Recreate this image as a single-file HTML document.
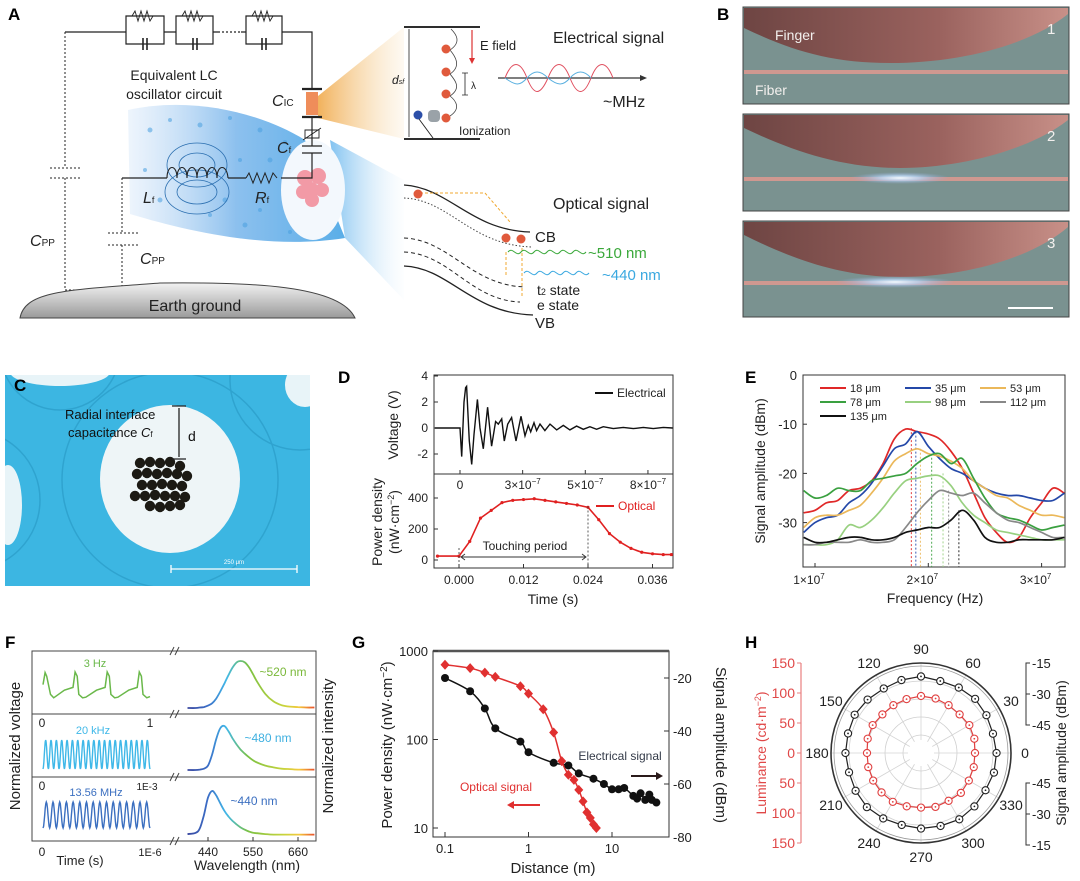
<!DOCTYPE html>
<html><head><meta charset="utf-8">
<style>
html,body{margin:0;padding:0;background:#fff;}
svg{display:block;font-family:"Liberation Sans",Arial,sans-serif;}
.pl{font-weight:bold;font-size:17px;font-family:"Liberation Sans",sans-serif;}
.tk{font-size:12px;fill:#222;}
.al{font-size:14px;fill:#222;}
</style></head>
<body>
<svg id="fig" width="1080" height="881" viewBox="0 0 1080 881" xmlns="http://www.w3.org/2000/svg">
<defs>
<linearGradient id="gOr" x1="0" y1="0" x2="1" y2="0"><stop offset="0" stop-color="#f0a94a" stop-opacity="0.9"/><stop offset="1" stop-color="#f7d9a8" stop-opacity="0.15"/></linearGradient>
<linearGradient id="gBl" x1="0" y1="0" x2="1" y2="0"><stop offset="0" stop-color="#6cb8ee" stop-opacity="0.85"/><stop offset="1" stop-color="#d8ecfa" stop-opacity="0.05"/></linearGradient>
<linearGradient id="gTube" x1="0" y1="0" x2="1" y2="0"><stop offset="0" stop-color="#c4dcf6" stop-opacity="0.3"/><stop offset="0.5" stop-color="#8cc0ee"/><stop offset="1" stop-color="#5aaee8"/></linearGradient>
<linearGradient id="gGround" x1="0" y1="0" x2="0" y2="1"><stop offset="0" stop-color="#f2f2f2"/><stop offset="1" stop-color="#9a9a9a"/></linearGradient>
<linearGradient id="gFinger" x1="0" y1="0" x2="1" y2="0"><stop offset="0" stop-color="#6e4543"/><stop offset="0.6" stop-color="#9a625e"/><stop offset="1" stop-color="#c89088"/></linearGradient>
<linearGradient id="gSpec" gradientUnits="userSpaceOnUse" x1="188" y1="0" x2="316" y2="0"><stop offset="0" stop-color="#3a48a0"/><stop offset="0.16" stop-color="#3b6fc8"/><stop offset="0.3" stop-color="#42b8e8"/><stop offset="0.47" stop-color="#7ac143"/><stop offset="0.75" stop-color="#c8d43c"/><stop offset="0.87" stop-color="#f4c83c"/><stop offset="1" stop-color="#e8452a"/></linearGradient>
<radialGradient id="gGlow"><stop offset="0" stop-color="#f4fbff"/><stop offset="0.4" stop-color="#b9d6f5" stop-opacity="0.8"/><stop offset="1" stop-color="#8fa8d8" stop-opacity="0"/></radialGradient>
<clipPath id="clipC"><rect x="5" y="375" width="305" height="211"/></clipPath>
</defs>

<!-- ================= PANEL A ================= -->
<g>
<text class="pl" x="8" y="20">A</text>
<polygon points="318,96 404,27 404,139 318,118" fill="url(#gOr)"/>
<polygon points="330,140 404,180 404,300 345,238" fill="url(#gBl)"/>
<path d="M128,110 C190,96 260,112 305,140 L345,238 C270,250 190,232 130,214 Z" fill="url(#gTube)"/>
<g fill="#4aa0e0" opacity="0.55">
<circle cx="150" cy="130" r="2.5"/><circle cx="170" cy="120" r="2"/><circle cx="200" cy="125" r="2.5"/><circle cx="230" cy="118" r="2"/><circle cx="260" cy="130" r="2.5"/><circle cx="285" cy="142" r="2"/><circle cx="160" cy="200" r="2.5"/><circle cx="210" cy="215" r="2"/><circle cx="245" cy="225" r="2.5"/><circle cx="290" cy="232" r="2"/><circle cx="240" cy="160" r="2"/><circle cx="225" cy="200" r="2.5"/><circle cx="260" cy="210" r="2"/><circle cx="145" cy="170" r="2"/><circle cx="270" cy="160" r="2.5"/></g>
<ellipse cx="313" cy="190" rx="32" ry="50" fill="#f3f8fd"/>
<g fill="#f29aa6"><circle cx="305" cy="178" r="8"/><circle cx="318" cy="176" r="8"/><circle cx="311" cy="190" r="8"/><circle cx="322" cy="190" r="7"/><circle cx="303" cy="192" r="7"/><circle cx="312" cy="200" r="7"/></g>
<g fill="none" stroke="#2b6fb0" stroke-width="0.8">
<ellipse cx="197" cy="165" rx="30" ry="22"/><ellipse cx="197" cy="165" rx="18" ry="12"/><ellipse cx="197" cy="192" rx="32" ry="22"/><ellipse cx="197" cy="192" rx="20" ry="12"/></g>
<g fill="none" stroke="#222" stroke-width="1.2">
<path d="M65,32 H126 M164,32 H176 M213,32 H218 M241,32 H246 M282,32 H312 V89"/>
<path d="M218,32 H241" stroke-dasharray="2,2"/>
<path d="M126,32 V16 H164 V32 M126,32 V44 H164 V32 M176,32 V16 H213 V32 M176,32 V44 H213 V32 M246,32 V16 H282 V32 M246,32 V44 H282 V32"/>
<path d="M132,16 l3,-5 l3,10 l3,-10 l3,10 l3,-10 l3,10 l3,-5 M182,16 l3,-5 l3,10 l3,-10 l3,10 l3,-10 l3,10 l3,-5 M252,16 l3,-5 l3,10 l3,-10 l3,10 l3,-10 l3,10 l3,-5" stroke-width="0.9"/>
<path d="M143,38 V50 M147,38 V50 M193,38 V50 M197,38 V50 M262,38 V50 M266,38 V50" stroke-width="1.6"/>
<path d="M302,89 H322 M302,117 H322" stroke-width="2.2"/>
<path d="M312,117 V146 M302,146 H322 M302,153 H322 M312,153 V178 H281 M246,178 H228 M167,178 H122" />
<path d="M303,140 L321,128 M305,130 H319 V138 H305 Z" stroke-width="0.9"/>
<path d="M246,178 l3,-5 l4,10 l4,-10 l4,10 l4,-10 l4,10 l4,-10 l4,5" stroke-width="1"/>
<path d="M167,178 c0,-14 10,-14 10,0 c0,-14 10,-14 10,0 c0,-14 10,-14 10,0 c0,-14 10,-14 10,0 c0,-14 10,-14 10,0 c0,-14 10,-14 11,0" stroke-width="1.1"/>
<path d="M65,32 V168 M65,178 V290 M50,168 H80 M50,178 H80 M122,178 V233 M122,245 V290 M108,233 H138 M108,245 H138 M65,290 H122" stroke-dasharray="2,2" stroke-width="1"/>
</g>
<rect x="306" y="92" width="12" height="23" fill="#ef8d5a"/>
<path d="M20,318 C25,290 70,290 160,283 C250,282 340,285 355,318 Z" fill="url(#gGround)" stroke="#444" stroke-width="1"/>
<text x="195" y="311" text-anchor="middle" style="font-size:16px" fill="#222">Earth ground</text>
<text x="174" y="80" text-anchor="middle" style="font-size:14px" fill="#222">Equivalent LC</text>
<text x="174" y="99" text-anchor="middle" style="font-size:14px" fill="#222">oscillator circuit</text>
<text x="272" y="106" style="font-size:16px;font-style:italic" fill="#222">C<tspan style="font-size:10px;font-style:normal">IC</tspan></text>
<text x="277" y="153" style="font-size:16px;font-style:italic" fill="#222">C<tspan style="font-size:9px;font-style:normal">f</tspan></text>
<text x="143" y="203" style="font-size:16px;font-style:italic" fill="#222">L<tspan style="font-size:9px;font-style:normal">f</tspan></text>
<text x="255" y="203" style="font-size:16px;font-style:italic" fill="#222">R<tspan style="font-size:9px;font-style:normal">f</tspan></text>
<text x="30" y="246" style="font-size:16px;font-style:italic" fill="#222">C<tspan style="font-size:10px;font-style:normal">PP</tspan></text>
<text x="140" y="264" style="font-size:16px;font-style:italic" fill="#222">C<tspan style="font-size:10px;font-style:normal">PP</tspan></text>
<g>
<path d="M404,27 H480 M404,139 H480" stroke="#111" stroke-width="1.8"/>
<path d="M409,29 V137" stroke="#222" stroke-width="0.8"/>
<text x="392" y="84" style="font-size:12px;font-style:italic" fill="#222">d<tspan style="font-size:7px">sf</tspan></text>
<path d="M472,30 V60" stroke="#d33" stroke-width="1.2"/><path d="M469,58 L472,64 L475,58 Z" fill="#d33"/>
<text x="480" y="50" style="font-size:13px" fill="#222">E field</text>
<path d="M462,73 H468 M465,73 V95 M462,95 H468" stroke="#222" stroke-width="0.8"/>
<text x="471" y="89" style="font-size:10px" fill="#222">λ</text>
<path d="M450,116 C462,108 455,100 450,96 C462,88 455,80 450,74 C462,66 455,56 450,50 C462,42 456,34 451,29" stroke="#444" stroke-width="0.8" fill="none"/>
<circle cx="446" cy="49" r="4.5" fill="#e05a3c"/><circle cx="446" cy="72" r="4.5" fill="#e05a3c"/><circle cx="446" cy="94" r="4.5" fill="#e05a3c"/><circle cx="446" cy="118" r="4.5" fill="#e05a3c"/>
<rect x="428" y="110" width="12" height="12" rx="4" fill="#9aa2a8"/><circle cx="418" cy="115" r="4.5" fill="#2c4fa8"/>
<path d="M419,119 L433,138" stroke="#222" stroke-width="0.9"/>
<text x="459" y="135" style="font-size:12px" fill="#222">Ionization</text>
<text x="553" y="43" style="font-size:16px" fill="#222">Electrical signal</text>
<path d="M498,78 H643" stroke="#333" stroke-width="1.2"/><path d="M640,75 L647,78 L640,81 Z" fill="#333"/>
<path d="M505,78 C512,60 520,60 527,78 C534,96 540,96 548,78 C555,60 563,60 570,78 C577,96 584,96 591,78 C598,60 606,60 613,78" stroke="#e05060" fill="none" stroke-width="1"/>
<path d="M505,78 C516,86 520,86 527,78 C534,70 540,70 548,78 C558,86 563,86 570,78 C577,70 584,70 591,78" stroke="#5ab0e0" fill="none" stroke-width="1"/>
<text x="603" y="107" style="font-size:16px" fill="#222">~MHz</text>
</g>
<g fill="none">
<path d="M404,185 C450,188 470,230 530,232" stroke="#222" stroke-width="1.3"/>
<path d="M404,198 C450,200 470,245 532,247" stroke="#444" stroke-width="1" stroke-dasharray="1.5,2"/>
<path d="M404,238 C450,240 470,285 525,287" stroke="#222" stroke-width="1" stroke-dasharray="4,3"/>
<path d="M404,252 C450,254 470,300 520,302" stroke="#222" stroke-width="1" stroke-dasharray="4,3"/>
<path d="M404,266 C450,268 470,313 533,315" stroke="#222" stroke-width="1.3"/>
<path d="M420,193 H485 L510,222 M506,252 V275 M522,248 V298" stroke="#f0a830" stroke-width="1" stroke-dasharray="3,2"/>
<path d="M508,252 c5,-6 8,6 13,0 c5,-6 8,6 13,0 c5,-6 8,6 13,0 c5,-6 8,6 13,0 c5,-6 8,6 13,0 c5,-6 8,6 13,0" stroke="#3aa83a" stroke-width="1"/>
<path d="M524,273 c5,-6 8,6 13,0 c5,-6 8,6 13,0 c5,-6 8,6 13,0 c5,-6 8,6 13,0 c5,-6 8,6 13,0" stroke="#3aa8e0" stroke-width="1"/>
</g>
<circle cx="418" cy="194" r="4.5" fill="#e05a3c"/>
<circle cx="506" cy="238" r="4.5" fill="#e05a3c"/>
<circle cx="521" cy="239" r="4.5" fill="#e05a3c"/>
<text x="553" y="209" style="font-size:16px" fill="#222">Optical signal</text>
<text x="535" y="242" style="font-size:15px" fill="#222">CB</text>
<text x="588" y="258" style="font-size:15px" fill="#3aa83a">~510 nm</text>
<text x="602" y="280" style="font-size:15px" fill="#3aa8e0">~440 nm</text>
<text x="537" y="295" style="font-size:14px" fill="#222">t<tspan style="font-size:9px">2</tspan> state</text>
<text x="537" y="310" style="font-size:14px" fill="#222">e state</text>
<text x="535" y="328" style="font-size:15px" fill="#222">VB</text>
</g>

<!-- ================= PANEL B ================= -->
<g>
<text class="pl" x="717" y="20">B</text>
<g>
<rect x="743" y="7" width="326" height="97" fill="#7a9290" stroke="#444"/>
<path d="M744,8 V28 C790,50 830,63 890,63 C960,63 1030,45 1068,14 V8 Z" fill="url(#gFinger)"/>
<rect x="744" y="70" width="324" height="4" fill="#cf9890"/>
<text x="775" y="40" fill="#f3f0ee" style="font-size:14px">Finger</text>
<text x="755" y="95" fill="#f3f0ee" style="font-size:14px">Fiber</text>
<text x="1047" y="34" fill="#f3f0ee" style="font-size:15px">1</text></g>
<g>
<rect x="743" y="114" width="326" height="97" fill="#7a9290" stroke="#444"/>
<path d="M744,115 V128 C790,150 840,168 900,168 C960,168 1030,150 1068,120 V115 Z" fill="url(#gFinger)"/>
<rect x="744" y="177" width="324" height="4" fill="#cf9890"/>
<ellipse cx="900" cy="178" rx="50" ry="6" fill="url(#gGlow)"/>
<text x="1047" y="141" fill="#f3f0ee" style="font-size:15px">2</text></g>
<g>
<rect x="743" y="221" width="326" height="96" fill="#7a9290" stroke="#444"/>
<path d="M744,222 V235 C790,258 840,277 900,277 C960,277 1030,260 1068,227 V222 Z" fill="url(#gFinger)"/>
<rect x="744" y="281" width="324" height="4" fill="#cf9890"/>
<ellipse cx="895" cy="282" rx="60" ry="6" fill="url(#gGlow)"/>
<text x="1047" y="248" fill="#f3f0ee" style="font-size:15px">3</text>
<path d="M1008,308 H1053" stroke="#fff" stroke-width="2"/></g>
</g>

<!-- ================= PANEL C ================= -->
<g>
<g clip-path="url(#clipC)">
<rect x="5" y="375" width="305" height="211" fill="#3cb6e2"/>
<g fill="none" stroke="#2a9cc8" stroke-width="1.5" opacity="0.7"><circle cx="170" cy="480" r="108"/><circle cx="-30" cy="500" r="70"/><circle cx="300" cy="380" r="70"/><circle cx="60" cy="350" r="60"/></g>
<ellipse cx="60" cy="372" rx="50" ry="14" fill="#e8f4f8"/>
<ellipse cx="8" cy="505" rx="14" ry="40" fill="#e8f4f8"/>
<ellipse cx="305" cy="385" rx="20" ry="22" fill="#e8f4f8"/>
<ellipse cx="170" cy="479" rx="70" ry="74" fill="#eef5f7"/>
</g>
<g fill="#1c1a14" id="cDots"></g>
<text x="65" y="419" style="font-size:13px" fill="#111">Radial interface</text>
<text x="68" y="437" style="font-size:13px" fill="#111">capacitance <tspan font-style="italic">C</tspan><tspan style="font-size:8px">f</tspan></text>
<path d="M172,406 H186 M172,459 H186 M179,408 V457" stroke="#222" stroke-width="1.3"/>
<text x="188" y="441" style="font-size:14px" fill="#111">d</text>
<path d="M171,569 H297 M171,565 V573 M297,565 V573" stroke="#fff" stroke-width="1.3"/>
<text x="234" y="564" text-anchor="middle" style="font-size:6px" fill="#fff">250 μm</text>
<text class="pl" x="14" y="391">C</text>
</g>

<!-- ================= PANEL D ================= -->
<g id="panelD">
<text class="pl" x="338" y="383">D</text>
<rect x="434" y="375" width="239" height="193" fill="none" stroke="#333"/>
<path d="M434,474 H673" stroke="#333"/>
<text transform="translate(398,425) rotate(-90)" text-anchor="middle" class="al">Voltage (V)</text>
<text transform="translate(382,522) rotate(-90)" text-anchor="middle" class="al">Power density</text>
<text transform="translate(399,522) rotate(-90)" text-anchor="middle" class="al">(nW·cm<tspan dy="-5" style="font-size:9px">−2</tspan><tspan dy="5">)</tspan></text>
<text x="553" y="604" text-anchor="middle" class="al">Time (s)</text>
<path d="M595,393 H613" stroke="#111" stroke-width="2"/>
<text x="617" y="397" class="tk">Electrical</text>
<path d="M596,506 H614" stroke="#e02020" stroke-width="2"/>
<text x="618" y="510" class="tk" style="fill:#e02020">Optical</text>
<g id="dTop"></g><g id="dBot"></g>
<text x="525" y="550" text-anchor="middle" class="tk">Touching period</text>
</g>

<!-- ================= PANEL E ================= -->
<g id="panelE">
<text class="pl" x="745" y="383">E</text>
<rect x="803" y="375" width="262" height="192" fill="none" stroke="#333"/>
<text transform="translate(765,471) rotate(-90)" text-anchor="middle" class="al">Signal amplitude (dBm)</text>
<text x="935" y="603" text-anchor="middle" class="al">Frequency (Hz)</text>
<g id="eG"></g>
</g>

<!-- ================= PANEL F ================= -->
<g id="panelF">
<text class="pl" x="5" y="648">F</text>
<rect x="32" y="651" width="284" height="190" fill="none" stroke="#444"/>
<path d="M32,714 H316 M32,777 H316" stroke="#444"/>
<path d="M170,655 l4,-8 M175,655 l4,-8 M170,845 l4,-8 M175,845 l4,-8 M170,718 l4,-8 M175,718 l4,-8 M170,781 l4,-8 M175,781 l4,-8" stroke="#444"/>
<text transform="translate(20,746) rotate(-90)" text-anchor="middle" style="font-size:15px" fill="#222">Normalized voltage</text>
<text transform="translate(333,746) rotate(-90)" text-anchor="middle" style="font-size:15px" fill="#222">Normalized intensity</text>
<text x="42" y="856" text-anchor="middle" class="tk">0</text>
<text x="150" y="856" text-anchor="middle" class="tk" style="font-size:11px">1E-6</text>
<text x="80" y="865" text-anchor="middle" class="tk" style="font-size:13px">Time (s)</text>
<text x="247" y="870" text-anchor="middle" style="font-size:14px" fill="#222">Wavelength (nm)</text>
<text x="42" y="727" text-anchor="middle" class="tk">0</text>
<text x="150" y="727" text-anchor="middle" class="tk">1</text>
<text x="42" y="790" text-anchor="middle" class="tk">0</text>
<text x="147" y="790" text-anchor="middle" class="tk" style="font-size:10px">1E-3</text>
<text x="95" y="667" text-anchor="middle" style="font-size:11px" fill="#6ab84a">3 Hz</text>
<text x="93" y="734" text-anchor="middle" style="font-size:11px" fill="#3fb8e8">20 kHz</text>
<text x="96" y="796" text-anchor="middle" style="font-size:11px" fill="#3b6fc0">13.56 MHz</text>
<text x="283" y="676" text-anchor="middle" style="font-size:12px" fill="#7ab83a">~520 nm</text>
<text x="268" y="742" text-anchor="middle" style="font-size:12px" fill="#3fb0e0">~480 nm</text>
<text x="254" y="805" text-anchor="middle" style="font-size:12px" fill="#3b6fc0">~440 nm</text>
<g id="fG"></g>
</g>

<!-- ================= PANEL G ================= -->
<g id="panelG">
<text class="pl" x="352" y="648">G</text>
<rect x="433" y="651" width="236" height="186" fill="none" stroke="#333"/>
<path d="M433,651 H669" stroke="#555" stroke-width="2.5"/>
<text transform="translate(392,745) rotate(-90)" text-anchor="middle" style="font-size:15px" fill="#222">Power density (nW·cm<tspan dy="-5" style="font-size:10px">−2</tspan><tspan dy="5">)</tspan></text>
<text transform="translate(716,745) rotate(90)" text-anchor="middle" style="font-size:15px" fill="#222">Signal amplitude (dBm)</text>
<text x="553" y="873" text-anchor="middle" style="font-size:15px" fill="#222">Distance (m)</text>
<text x="620" y="760" text-anchor="middle" class="tk" style="fill:#333a48">Electrical signal</text>
<path d="M631,776 H658" stroke="#2a1a1a" stroke-width="2"/><path d="M656,772 L663,776 L656,780 Z" fill="#2a1a1a"/>
<text x="496" y="791" text-anchor="middle" class="tk" style="fill:#e03030">Optical signal</text>
<path d="M512,805 H540" stroke="#e03030" stroke-width="2"/><path d="M514,801 L507,805 L514,809 Z" fill="#e03030"/>
<g id="gG"></g>
</g>

<!-- ================= PANEL H ================= -->
<g id="panelH">
<text class="pl" x="745" y="648">H</text>
<text transform="translate(766,753) rotate(-90)" text-anchor="middle" style="font-size:14px;fill:#e04848">Luminance (cd·m<tspan dy="-5" style="font-size:9px">−2</tspan><tspan dy="5">)</tspan></text>
<text transform="translate(1066,753) rotate(-90)" text-anchor="middle" style="font-size:14px" fill="#222">Signal amplitude (dBm)</text>
<g id="hG"></g>
</g>
</svg>

<script>
// Panel D
const dVoltTime = [-0.40,0,0.027,0.064,0.09,0.106,0.149,0.186,0.223,0.277,0.319,0.372,0.441,0.505,0.569,0.612,0.665,0.707,0.761,0.824,0.894,0.973,1.037,1.09,1.128,1.181,1.223,1.277,1.356,1.436,1.543,1.649,1.755,1.862,1.968,2.074,2.181,2.287,2.447,2.606,2.766,2.926,3.085,3.245,3.394];
const dVoltValue = [0,0,-2.2,2.0,3.1,3.2,-1,-2.8,-0.5,2.2,0,-1.6,1.6,-1.4,0.5,0.3,0.7,-1.0,0.3,0.8,-1,0.9,-0.6,0.2,-0.3,0.4,-0.2,0.3,-0.2,0.3,-0.15,0.2,-0.15,0.15,-0.1,0.1,-0.1,0.1,-0.05,0.05,-0.05,0.05,-0.05,0.05,0];
const dVoltTicks = [4,2,0,-2];
const dTopTickPos = [0,1,2,3];
const dTopTickLabels = ["0","3×10","5×10","8×10"];
const dOptTime = [-0.004,0,0.002,0.004,0.006,0.008,0.010,0.012,0.014,0.016,0.018,0.020,0.022,0.024,0.026,0.028,0.030,0.032,0.034,0.036,0.038,0.0395];
const dOptValue = [25,25,120,270,320,370,385,390,395,385,375,365,355,340,260,170,115,75,50,40,35,35];
const dOptTicks = [400,200,0];
const dTimeTicks = [0,0.012,0.024,0.036];
const dTimeLabels = ["0.000","0.012","0.024","0.036"];
const dTouchStart = 0, dTouchEnd = 0.024;

// Panel E
const eFreq = [0.9,1.0,1.1,1.2,1.3,1.4,1.5,1.6,1.7,1.8,1.9,2.0,2.1,2.2,2.3,2.4,2.5,2.6,2.7,2.8,2.9,3.0,3.1,3.2];
const eS18 = [-28,-27.5,-26,-25.5,-23.5,-23,-21.5,-18,-13,-11,-11.5,-12,-13,-15.5,-19,-24,-29,-32,-34,-33,-29,-26,-23,-24];
const eS35 = [-32,-30,-29,-28.5,-26,-24.5,-22,-18.5,-15,-14,-11.5,-14.5,-17,-19,-20,-21.5,-23,-24,-24.5,-24.5,-25,-25.5,-25.5,-24];
const eS53 = [-31,-29,-28.5,-28.5,-27.5,-26.5,-24,-21,-17.5,-16,-15,-16,-16.5,-17.5,-19,-21.5,-23,-24.5,-25,-26.5,-27.5,-28.5,-28.5,-29];
const eS78 = [-23.5,-25,-24.5,-23,-23.5,-23.5,-21.5,-21,-20.5,-20,-18,-16.5,-16,-18,-17,-21,-25,-28,-29,-29.5,-30.5,-31.5,-31,-30.5];
const eS98 = [-34.5,-34.5,-34.5,-33.5,-30.5,-31,-29.5,-27,-24,-21.5,-21,-20.5,-20.5,-22.5,-26,-28.5,-30,-31.5,-32,-32.5,-33,-33.5,-33.5,-33.5];
const eS112 = [-34.5,-34.5,-34,-34,-34,-33.5,-34,-34,-33.5,-31,-28,-25.5,-23.5,-24,-24.5,-24,-26,-28,-29.5,-30,-31,-32,-33,-33];
const eS135 = [-33,-34,-34,-33.5,-33,-33,-33.5,-33.5,-33,-32,-31.5,-31,-31,-29.5,-27.5,-29.5,-33,-34,-34,-33.5,-33.5,-33.5,-33.5,-33];
const ePeakFreq = [1.85,1.89,1.93,2.03,2.13,2.18,2.27];
const ePeakVal = [-10.8,-11.5,-15,-16,-20,-23.5,-27.5];
const eNames = ["18 μm","35 μm","53 μm","78 μm","98 μm","112 μm","135 μm"];
const eYTicks = [0,-10,-20,-30];
const eXTicks = [1,2,3];

// Panel F
const fSawX = [0,0.02,0.035,0.07,0.1,0.2,0.28,0.3,0.32,0.335,0.37,0.4,0.5,0.58,0.6,0.62,0.635,0.67,0.7,0.8,0.88,0.9,0.92,0.935,0.97,1.0];
const fSawY = [0.55,0.98,0.85,0.2,0.08,0.35,0.45,1.0,0.85,0.2,0.08,0.1,0.35,0.45,1.0,0.85,0.2,0.08,0.1,0.35,0.45,1.0,0.85,0.2,0.08,0.12];
const fCycles = [20,16];
const fWave = [390,410,420,430,440,450,460,470,480,490,500,510,520,530,540,550,560,580,600,620,640,660,680,700];
const fSpec520 = [0,0,0.01,0.02,0.05,0.1,0.2,0.35,0.52,0.7,0.86,0.97,1.0,0.97,0.87,0.72,0.56,0.3,0.14,0.06,0.03,0.02,0.01,0.01];
const fSpec480 = [0,0,0.01,0.03,0.1,0.35,0.7,0.95,1.0,0.88,0.72,0.58,0.46,0.37,0.29,0.22,0.17,0.1,0.06,0.03,0.02,0.01,0.01,0.01];
const fSpec440 = [0.02,0.05,0.15,0.45,0.85,1.0,0.9,0.72,0.55,0.42,0.32,0.24,0.17,0.12,0.08,0.05,0.04,0.02,0.01,0.01,0.01,0.01,0.01,0.01];
const fWaveTicks = [440,550,660];

// Panel G
const gOptDist = [0.1,0.2,0.3,0.4,0.8,1.0,1.5,2.0,2.5,3.0,3.5,4.0,4.5,5.0,5.5,6.0,6.5];
const gOptPower = [700,640,570,510,400,330,220,120,57,40,35,27,20,15,13,11,10];
const gEleDist = [0.1,0.2,0.3,0.4,0.8,1.0,2.0,3.0,4.0,6.0,8.0,10,12,14,18,20,22,25,28,30,34];
const gEleAmp = [-20,-25,-31.5,-39,-44,-48,-52,-53,-56,-58,-60,-62,-62,-61.5,-64.5,-65.5,-63.5,-66,-64,-66,-67];
const gLeftTicks = [1000,100,10];
const gRightTicks = [-20,-40,-60,-80];
const gXTicks = [0.1,1,10];

// Panel H
const hAngles = [0,15,30,45,60,75,90,105,120,135,150,165,180,195,210,225,240,255,270,285,300,315,330,345];
const hSignal = [-22,-22.5,-22,-21.5,-22,-22.5,-21.5,-22,-22.5,-22,-21.5,-22,-22,-22.5,-22,-21.5,-22,-22.5,-22,-22,-21.5,-22,-22.5,-22];
const hLum = [90,92,93,91,92,94,95,93,92,91,93,92,90,91,92,93,94,92,91,93,92,94,92,91];
const hAngleTicks = [0,30,60,90,120,150,180,210,240,270,300,330];
const hLumTicks = [150,100,50,0,50,100,150];
const hSigTicksTop = [-15,-30,-45];
const hSigTicksBot = [-45,-30,-15];

const NS = "http://www.w3.org/2000/svg";
function mk(parent, tag, attrs, txt){const e=document.createElementNS(NS,tag);for(const k in attrs)e.setAttribute(k,attrs[k]);if(txt!==undefined)e.textContent=txt;parent.appendChild(e);return e;}
function lin(d0,d1,r0,r1){return v=>r0+(v-d0)*(r1-r0)/(d1-d0);}
function logs(d0,d1,r0,r1){return v=>r0+(Math.log10(v)-Math.log10(d0))*(r1-r0)/(Math.log10(d1)-Math.log10(d0));}
function pts(xs,ys,fx,fy){return xs.map((x,i)=>fx(x).toFixed(1)+","+fy(ys[i]).toFixed(1)).join(" ");}
function smooth(xs,ys,fx,fy){const p=xs.map((x,i)=>[fx(x),fy(ys[i])]);let d="M"+p[0][0].toFixed(1)+","+p[0][1].toFixed(1);for(let i=0;i<p.length-1;i++){const p0=p[i-1]||p[i],p1=p[i],p2=p[i+1],p3=p[i+2]||p2;const c1x=p1[0]+(p2[0]-p0[0])/6,c1y=p1[1]+(p2[1]-p0[1])/6,c2x=p2[0]-(p3[0]-p1[0])/6,c2y=p2[1]-(p3[1]-p1[1])/6;d+=" C"+c1x.toFixed(1)+","+c1y.toFixed(1)+" "+c2x.toFixed(1)+","+c2y.toFixed(1)+" "+p2[0].toFixed(1)+","+p2[1].toFixed(1);}return d;}

(function(){const g=document.getElementById('cDots');
const cx=[140,150,160,170,180,137,147,157,167,177,187,142,152,162,172,182,135,145,155,165,175,185,150,160,170,180];
const cy=[463,462,463,462,466,474,473,474,473,474,476,485,485,484,485,486,496,496,495,496,496,497,506,507,506,505];
cx.forEach((x,i)=>{const c=mk(g,'circle',{cx:x,cy:cy[i],r:5.2});

});})();

(function(){
const gt=document.getElementById('dTop'), gb=document.getElementById('dBot');
const xT=lin(-0.415,3.40,434,673), yV=lin(0,4,428,376);
dVoltTicks.forEach(v=>{const y=yV(v);mk(gt,'path',{d:`M434,${y} h4`,stroke:'#333'});
const t=mk(gt,'text',{x:428,y:y+4,'text-anchor':'end',class:'tk'},String(v));

});
dTopTickPos.forEach((u,i)=>{const x=xT(u);mk(gt,'path',{d:`M${x},474 v-4`,stroke:'#333'});
const t=mk(gt,'text',{x:x,y:489,'text-anchor':'middle',class:'tk'},dTopTickLabels[i]);
if(i>0){mk(t,'tspan',{dy:-5,style:'font-size:8px'},'−7');}

});
const vl=mk(gt,'polyline',{points:pts(dVoltTime,dVoltValue,xT,yV),fill:'none',stroke:'#111','stroke-width':1.4});


const xS=lin(0,0.012,459,523.5), yP=lin(0,400,560,498);
dOptTicks.forEach(v=>{const y=yP(v);mk(gb,'path',{d:`M434,${y} h4`,stroke:'#333'});
const t=mk(gb,'text',{x:428,y:y+4,'text-anchor':'end',class:'tk'},String(v));

});
dTimeTicks.forEach((v,i)=>{const x=xS(v);mk(gb,'path',{d:`M${x},568 v-4`,stroke:'#333'});
const t=mk(gb,'text',{x:x,y:584,'text-anchor':'middle',class:'tk'},dTimeLabels[i]);

});
const ol=mk(gb,'polyline',{points:pts(dOptTime,dOptValue,xS,yP),fill:'none',stroke:'#e02020','stroke-width':1.6});


dOptTime.forEach((t0,i)=>{const c=mk(gb,'circle',{cx:xS(t0),cy:yP(dOptValue[i]),r:1.6,fill:'#e02020'});

});
const x1=xS(dTouchStart), x2=xS(dTouchEnd);
const d1=mk(gb,'path',{d:`M${x1},548 V566 M${x2},${yP(345)} V568`,stroke:'#333','stroke-dasharray':'2,2','stroke-width':0.8});


const ar=mk(gb,'path',{d:`M${x1+2},557 H${x2-2} M${x1+6},554 L${x1+2},557 L${x1+6},560 M${x2-6},554 L${x2-2},557 L${x2-6},560`,stroke:'#333',fill:'none','stroke-width':0.9});


})();

(function(){
const g=document.getElementById('eG');
const xF=lin(1,2,815,928.3), yD=lin(0,-10,375,424.2);
const cols=['#e02828','#2448a8','#ebb85a','#3aa040','#98d080','#888888','#111111'];
const series=[eS18,eS35,eS53,eS78,eS98,eS112,eS135];
eYTicks.forEach(v=>{const y=yD(v);mk(g,'path',{d:`M803,${y} h4`,stroke:'#333'});
const t=mk(g,'text',{x:797,y:y+5,'text-anchor':'end',class:'tk',style:'font-size:13px'},String(v));

});
eXTicks.forEach(v=>{const x=xF(v);mk(g,'path',{d:`M${x},567 v-4`,stroke:'#333'});
const t=mk(g,'text',{x:x-6,y:584,'text-anchor':'middle',class:'tk'},v+"×10");
mk(t,'tspan',{dy:-5,style:'font-size:8px'},'7');

});
ePeakFreq.forEach((f,i)=>{const l=mk(g,'path',{d:`M${xF(f)},${yD(ePeakVal[i])} V567`,stroke:cols[i],'stroke-dasharray':'2,2','stroke-width':0.9});

});
series.forEach((s,i)=>{const p=mk(g,'path',{d:smooth(eFreq,s,xF,yD),fill:'none',stroke:cols[i],'stroke-width':1.7});

});
const lx=[820,905,980], ly=[388,402,416];
eNames.forEach((n,i)=>{const x=lx[i%3], y=ly[Math.floor(i/3)];
mk(g,'path',{d:`M${x},${y} h26`,stroke:cols[i],'stroke-width':2});
const t=mk(g,'text',{x:x+30,y:y+4,class:'tk',style:'font-size:11px'},n);

});
})();

(function(){
const g=document.getElementById('fG');
const xL=lin(0,1,43,150);
const saw=mk(g,'polyline',{points:pts(fSawX,fSawY,xL,lin(0,1,700,672)),fill:'none',stroke:'#6ab84a','stroke-width':1.5});


const rows=[[769,740,'#3fb8e8','f-signal-20khz'],[828,802,'#3b6fc0','f-signal-13mhz']];
fCycles.forEach((n,ri)=>{const yb=rows[ri][0], yt=rows[ri][1];let d="";const N=n*12;
for(let k=0;k<=N;k++){const u=k/N;const v=0.5-0.5*Math.cos(2*Math.PI*n*u);d+=(k?"L":"M")+xL(u).toFixed(1)+","+(yb-(yb-yt)*v).toFixed(1);}
const p=mk(g,'path',{d:d,fill:'none',stroke:rows[ri][2],'stroke-width':1.4});

});
const xW=lin(440,550,208,253);
const specs=[[fSpec520,708,661,'f-spectrum-520'],[fSpec480,770,726,'f-spectrum-480'],[fSpec440,835,791,'f-spectrum-440']];
specs.forEach(s=>{const p=mk(g,'path',{d:smooth(fWave,s[0],xW,lin(0,1,s[1],s[2])),fill:'none',stroke:'url(#gSpec)','stroke-width':1.8});

});
fWaveTicks.forEach(v=>{const x=xW(v);mk(g,'path',{d:`M${x},841 v-4`,stroke:'#333'});
const t=mk(g,'text',{x:x,y:856,'text-anchor':'middle',class:'tk'},String(v));

});
})();

(function(){
const g=document.getElementById('gG');
const xD=logs(0.1,10,445,612), yP=logs(10,1000,828,651), yA=lin(-20,-80,678,837);
gLeftTicks.forEach(v=>{const y=yP(v);mk(g,'path',{d:`M433,${y} h5`,stroke:'#333'});
const t=mk(g,'text',{x:428,y:y+5,'text-anchor':'end',class:'tk',style:'font-size:13px'},String(v));

});
gRightTicks.forEach(v=>{const y=yA(v);mk(g,'path',{d:`M669,${y} h-5`,stroke:'#333'});
const t=mk(g,'text',{x:673,y:y+5,class:'tk',style:'font-size:13px'},String(v));

});
gXTicks.forEach(v=>{const x=xD(v);mk(g,'path',{d:`M${x},837 v-5`,stroke:'#333'});
const t=mk(g,'text',{x:x,y:853,'text-anchor':'middle',class:'tk',style:'font-size:13px'},String(v));

});
const el=mk(g,'path',{d:smooth(gEleDist,gEleAmp,xD,yA),fill:'none',stroke:'#111','stroke-width':1.5});


const ol=mk(g,'path',{d:smooth(gOptDist,gOptPower,xD,yP),fill:'none',stroke:'#e03030','stroke-width':1.5});


gEleDist.forEach((d,i)=>{const c=mk(g,'circle',{cx:xD(d),cy:yA(gEleAmp[i]),r:4,fill:'#111'});

});
gOptDist.forEach((d,i)=>{const x=xD(d),y=yP(gOptPower[i]);
const c=mk(g,'path',{d:`M${x},${y-5} L${x+4.5},${y} L${x},${y+5} L${x-4.5},${y} Z`,fill:'#e03030'});

});
})();

(function(){
const g=document.getElementById('hG');
const cx=921, cy=753, R=90;
const rL=lin(0,150,0,R), rS=lin(-45,-15,28,R);
[18,36,54,72].forEach(r=>mk(g,'circle',{cx,cy,r,fill:'none',stroke:'#cfcfcf','stroke-width':0.8}));
hAngleTicks.forEach(a=>{const t=a*Math.PI/180;mk(g,'path',{d:`M${cx+13*Math.cos(t)},${cy-13*Math.sin(t)} L${cx+R*Math.cos(t)},${cy-R*Math.sin(t)}`,stroke:'#d4d4d4','stroke-width':0.8});
const lx=cx+(R+14)*Math.cos(t), ly=cy-(R+14)*Math.sin(t);
const tx=mk(g,'text',{x:lx,y:ly+5,'text-anchor':'middle',class:'tk',style:'font-size:14px'},String(a));

});
const rim=mk(g,'circle',{cx,cy,r:R,fill:'none',stroke:'#333','stroke-width':1.6});


mk(g,'circle',{cx,cy,r:R-3,fill:'none',stroke:'#999','stroke-width':0.8});
function ring(vals,rf,col,name){const xs=[],ys=[];hAngles.forEach((a,i)=>{const t=a*Math.PI/180,r=rf(vals[i]);xs.push(cx+r*Math.cos(t));ys.push(cy-r*Math.sin(t));});
const p=mk(g,'polygon',{points:xs.map((x,i)=>x.toFixed(1)+","+ys[i].toFixed(1)).join(" "),fill:'none',stroke:col,'stroke-width':1.2});


xs.forEach((x,i)=>{const c=mk(g,'circle',{cx:x,cy:ys[i],r:3.6,fill:'#fff',stroke:col,'stroke-width':1.1});


mk(g,'circle',{cx:x,cy:ys[i],r:0.9,fill:col});});}
ring(hSignal,rS,'#222','h-signal');
ring(hLum,rL,'#e04040','h-luminance');
mk(g,'path',{d:'M801,663 V843',stroke:'#e88080','stroke-width':1.2});
hLumTicks.forEach((v,i)=>{const y=663+i*30;mk(g,'path',{d:`M801,${y} h-4`,stroke:'#e88080'});
const t=mk(g,'text',{x:795,y:y+5,'text-anchor':'end',class:'tk',style:'font-size:14px;fill:#e04848'},String(v));

});
mk(g,'path',{d:'M1030,663 H1026 V725 H1030 M1026,694 h4 M1030,783 H1026 V845 H1030 M1026,814 h4',stroke:'#333',fill:'none'});
hSigTicksTop.forEach((v,i)=>{const t=mk(g,'text',{x:1032,y:668+i*31,class:'tk',style:'font-size:13px'},String(v));

});
hSigTicksBot.forEach((v,i)=>{const t=mk(g,'text',{x:1032,y:788+i*31,class:'tk',style:'font-size:13px'},String(v));

});
})();
</script>
</body></html>
